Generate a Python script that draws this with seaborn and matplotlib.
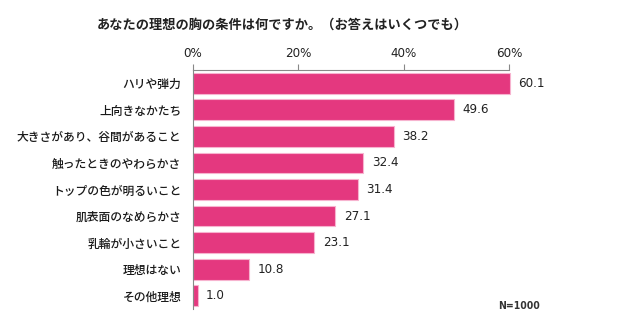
import matplotlib
matplotlib.use("Agg")
import matplotlib.pyplot as plt
import seaborn as sns
import pandas as pd

categories = ["ハリや弾力", "上向きなかたち", "大きさがあり、谷間があること", "触ったときのやわらかさ",
              "トップの色が明るいこと", "肌表面のなめらかさ", "乳輪が小さいこと", "理想はない", "その他理想"]
values = [60.1, 49.6, 38.2, 32.4, 31.4, 27.1, 23.1, 10.8, 1.0]
xticks = [0, 20, 40, 60]
xticklabels = ["0%", "20%", "40%", "60%"]
title = "あなたの理想の胸の条件は何ですか。（お答えはいくつでも）"
note = "N=1000"

sns.set_theme(style="white")
plt.rcParams['font.family'] = ['Noto Sans CJK JP', 'DejaVu Sans']

df = pd.DataFrame({"cat": categories, "val": values})

fig = plt.figure(figsize=(6.35, 3.25), dpi=100)
ax = fig.add_axes([192.5/635, 1-309/325, 316.5/635, 239/325])

sns.barplot(data=df, x="val", y="cat", orient="h", color="#E4387F", width=0.78,
            edgecolor="#F7B3CF", linewidth=0.8, saturation=1, ax=ax)
for p in ax.patches:
    p.set_clip_on(False)

num_font = dict(family="DejaVu Sans", stretch="condensed")

ax.set_xlim(0, 60)
ax.set_xticks(xticks)
ax.set_xticklabels(xticklabels, fontsize=9.5, color="#222222", **num_font)
ax.xaxis.tick_top()
ax.xaxis.set_label_position("top")
ax.tick_params(axis="x", direction="out", length=4, width=0.8, color="#888888", pad=3)
ax.tick_params(axis="y", length=0, pad=8)
for t in ax.get_yticklabels():
    t.set_fontsize(8.5)
    t.set_color("#1a1a1a")
    t.set_fontweight("medium")
ax.set_xlabel("")
ax.set_ylabel("")

for s in ["right", "bottom"]:
    ax.spines[s].set_visible(False)
for s in ["top", "left"]:
    ax.spines[s].set_color("#888888")
    ax.spines[s].set_linewidth(0.8)

for i, v in enumerate(values):
    ax.annotate(f"{v:.1f}", xy=(v, i), xytext=(6, 0), textcoords="offset points",
                va="center", ha="left", fontsize=9.5, color="#222222",
                annotation_clip=False, **num_font)

fig.text(97/635, 1-25/325, title, fontsize=9.5, fontweight="bold", color="#222222", va="center", ha="left")
fig.text(540/635, 1-306/325, note, fontsize=7.5, fontweight="bold", color="#333333",
         va="center", ha="right", **num_font)

fig.savefig("out.png", dpi=100)
